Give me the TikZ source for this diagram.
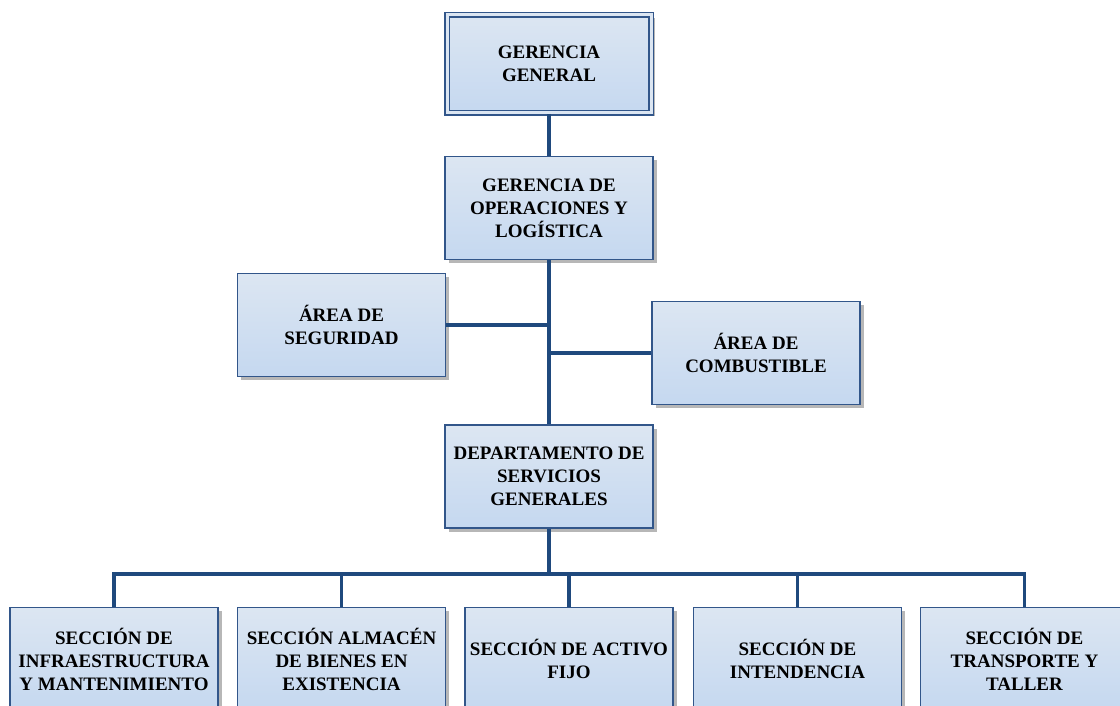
\documentclass[tikz,border=0pt]{standalone}
\usepackage{fontspec}
\setmainfont{Liberation Serif}
\usetikzlibrary{shadows,calc}
\definecolor{linecol}{RGB}{31,73,125}
\definecolor{boxdraw}{RGB}{50,86,138}
\definecolor{boxtop}{RGB}{220,230,242}
\definecolor{boxbot}{RGB}{197,216,240}
\tikzset{
  orgbox/.style={draw=boxdraw, line width=1.6pt, top color=boxtop, bottom color=boxbot,
    minimum width=208pt, minimum height=103pt, inner sep=0pt, align=center,
    font=\fontsize{19}{23}\selectfont\bfseries,
    drop shadow={shadow xshift=3.5pt, shadow yshift=-3.5pt, fill=black!40, opacity=0.7}},
  topbox/.style={orgbox, double=boxtop, double distance=3pt, line width=1.8pt, minimum width=204pt, minimum height=98pt},
  conn/.style={draw=linecol, line width=3.6pt, line join=miter}
}
\begin{document}
\begin{tikzpicture}[x=1pt,y=-1pt]
\useasboundingbox (0,0) rectangle (1120,706);
\node[topbox] (gg) at (549,64) {GERENCIA\\GENERAL};
\node[orgbox] (gol) at (549,208) {GERENCIA DE\\OPERACIONES Y\\LOGÍSTICA};
\node[orgbox] (as) at (341.5,325) {ÁREA DE\\SEGURIDAD};
\node[orgbox] (ac) at (756,353) {ÁREA DE\\COMBUSTIBLE};
\node[orgbox] (dsg) at (549,476.5) {DEPARTAMENTO DE\\SERVICIOS\\GENERALES};
\node[orgbox] (s1) at (114,659) {SECCIÓN DE\\INFRAESTRUCTURA\\Y MANTENIMIENTO};
\node[orgbox] (s2) at (341.5,659) {SECCIÓN ALMACÉN\\DE BIENES EN\\EXISTENCIA};
\node[orgbox] (s3) at (569,659) {SECCIÓN DE ACTIVO\\FIJO};
\node[orgbox] (s4) at (797.5,659) {SECCIÓN DE\\INTENDENCIA};
\node[orgbox] (s5) at (1024.5,659) {SECCIÓN DE\\TRANSPORTE Y\\TALLER};
\draw[conn] (gg.south) -- (gol.north);
\draw[conn] (gol.south) -- (dsg.north);
\draw[conn] (as.east) -- (as.east -| gol.south);
\draw[conn] (ac.west) -- (ac.west -| gol.south);
\coordinate (bus) at ($(dsg.south)+(0,45)$);
\draw[conn] (dsg.south) -- (bus);
\draw[conn] (s1.north) -- (s1.north |- bus) -- (s5.north |- bus) -- (s5.north);
\draw[conn] (s2.north) -- (s2.north |- bus);
\draw[conn] (s3.north) -- (s3.north |- bus);
\draw[conn] (s4.north) -- (s4.north |- bus);
\end{tikzpicture}
\end{document}
